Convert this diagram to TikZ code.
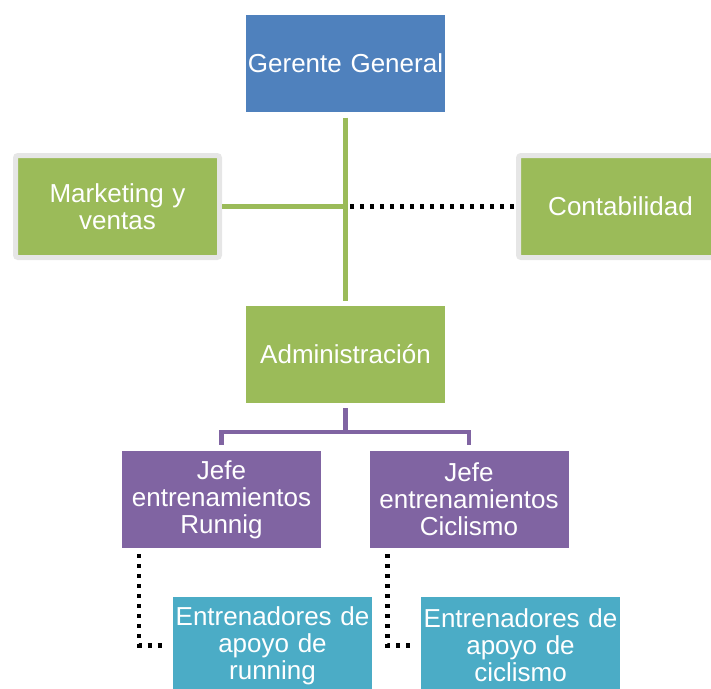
\documentclass[tikz,border=0pt]{standalone}
\usepackage{fontspec}
\setmainfont{Liberation Sans}
\definecolor{cblue}{HTML}{4F81BD}
\definecolor{cgreen}{HTML}{9BBB59}
\definecolor{cpurple}{HTML}{8064A2}
\definecolor{cteal}{HTML}{4BACC6}
\definecolor{cgray}{HTML}{E6E6E6}
\begin{document}
\begin{tikzpicture}[x=1pt,y=-1pt,
  orgbox/.style={minimum width=199pt, minimum height=97pt, inner sep=0pt, outer sep=0pt,
    text width=199pt, align=center, text=white, font=\fontsize{26}{27}\selectfont},
  framedbox/.style={orgbox, minimum width=204pt, minimum height=102pt, draw=cgray,
    line width=5pt, rounded corners=2.5pt, fill=cgreen, outer sep=2.5pt},
  greenline/.style={draw=cgreen, line width=5pt},
  purpleline/.style={draw=cpurple, line width=4.3pt},
  dotline/.style={draw=black, line width=4.3pt, dash pattern=on 4.3pt off 5.7pt}
]
\useasboundingbox (0,0) rectangle (711,688);
\clip (0,0) rectangle (711,688);
\node[orgbox, fill=cblue] (gg) at (345.5,63) {Gerente General};
\node[framedbox] (mk) at (117.5,206.5) {Marketing y\\ventas};
\node[framedbox] (ct) at (620.5,206.5) {Contabilidad};
\node[orgbox, fill=cgreen] (adm) at (345.5,354.5) {Administración};
\node[orgbox, fill=cpurple] (jr) at (221.5,499.5) {Jefe\\entrenamientos\\Runnig};
\node[orgbox, fill=cpurple] (jc) at (469,499.5) {Jefe\\entrenamientos\\Ciclismo};
\node[orgbox, fill=cteal] (er) at (272.5,645.5) {Entrenadores de\\apoyo de\\running};
\node[orgbox, fill=cteal] (ec) at (520.5,645.5) {Entrenadores de\\apoyo de\\ciclismo};
% green connectors
\draw[greenline] ([yshift=-6pt]gg.south) -- ([yshift=5pt]adm.north);
\draw[greenline] (mk.east) -- ([xshift=2.5pt]mk.east -| gg.south);
% dotted to Contabilidad
\draw[dotline] ([xshift=-2pt]ct.west) -- ([xshift=3pt]ct.west -| gg.south);
% purple connectors
\draw[purpleline] ([yshift=-5pt]adm.south) -- ++(0,24) -| ([yshift=6pt]jr.north);
\draw[purpleline] ([yshift=-5pt]adm.south) -- ++(0,24) -| ([yshift=6pt]jc.north);
% dotted elbows
\draw[dotline] ([xshift=17pt,yshift=-6pt]jr.south west) |- ([xshift=-6pt]er.west);
\draw[dotline] ([xshift=18pt,yshift=-6pt]jc.south west) |- ([xshift=-6pt]ec.west);
\end{tikzpicture}
\end{document}
